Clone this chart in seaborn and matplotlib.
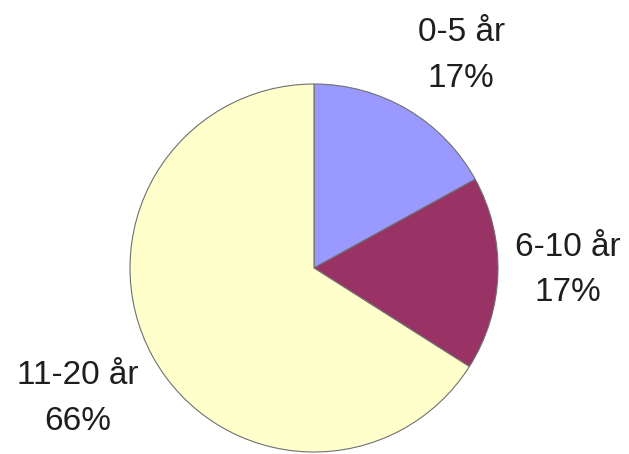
import matplotlib
matplotlib.use("Agg")
import matplotlib.pyplot as plt
import seaborn as sns

# Age groups and their shares (percent)
categories = ["0-5 år", "6-10 år", "11-20 år"]
shares = [17, 17, 66]
colors = ["#9999FF", "#993366", "#FFFFCC"]

sns.set_theme(style="white")
plt.rcParams["font.family"] = ["Liberation Sans", "DejaVu Sans"]

W, H = 629, 454
fig = plt.figure(figsize=(W / 100, H / 100), dpi=100)
fig.patch.set_facecolor("white")

# Pie occupies a square box centred slightly left of the figure centre
cx, cy, r = 314, 186, 184
ax = fig.add_axes([(cx - r) / W, (cy - r) / H, 2 * r / W, 2 * r / H])

labels = [f"{c}\n{s}%" for c, s in zip(categories, shares)]
wedges, texts = ax.pie(
    shares,
    labels=labels,
    colors=colors,
    startangle=90,
    counterclock=False,
    labeldistance=1.42,
    wedgeprops=dict(edgecolor="#707070", linewidth=0.8),
    textprops=dict(fontsize=24, color="#1e1e1e", linespacing=1.6),
)

# Label anchors outside the pie (in pie-radius units)
label_pos = [(0.80, 1.155), (1.38, -0.01), (-1.285, -0.71)]
for t, pos in zip(texts, label_pos):
    t.set_position(pos)
    t.set_ha("center")
    t.set_va("center")
    t.set_multialignment("center")

ax.set_xlim(-1, 1)
ax.set_ylim(-1, 1)
ax.set_aspect("equal")
ax.axis("off")

fig.savefig("out.png", dpi=100, facecolor="white")
